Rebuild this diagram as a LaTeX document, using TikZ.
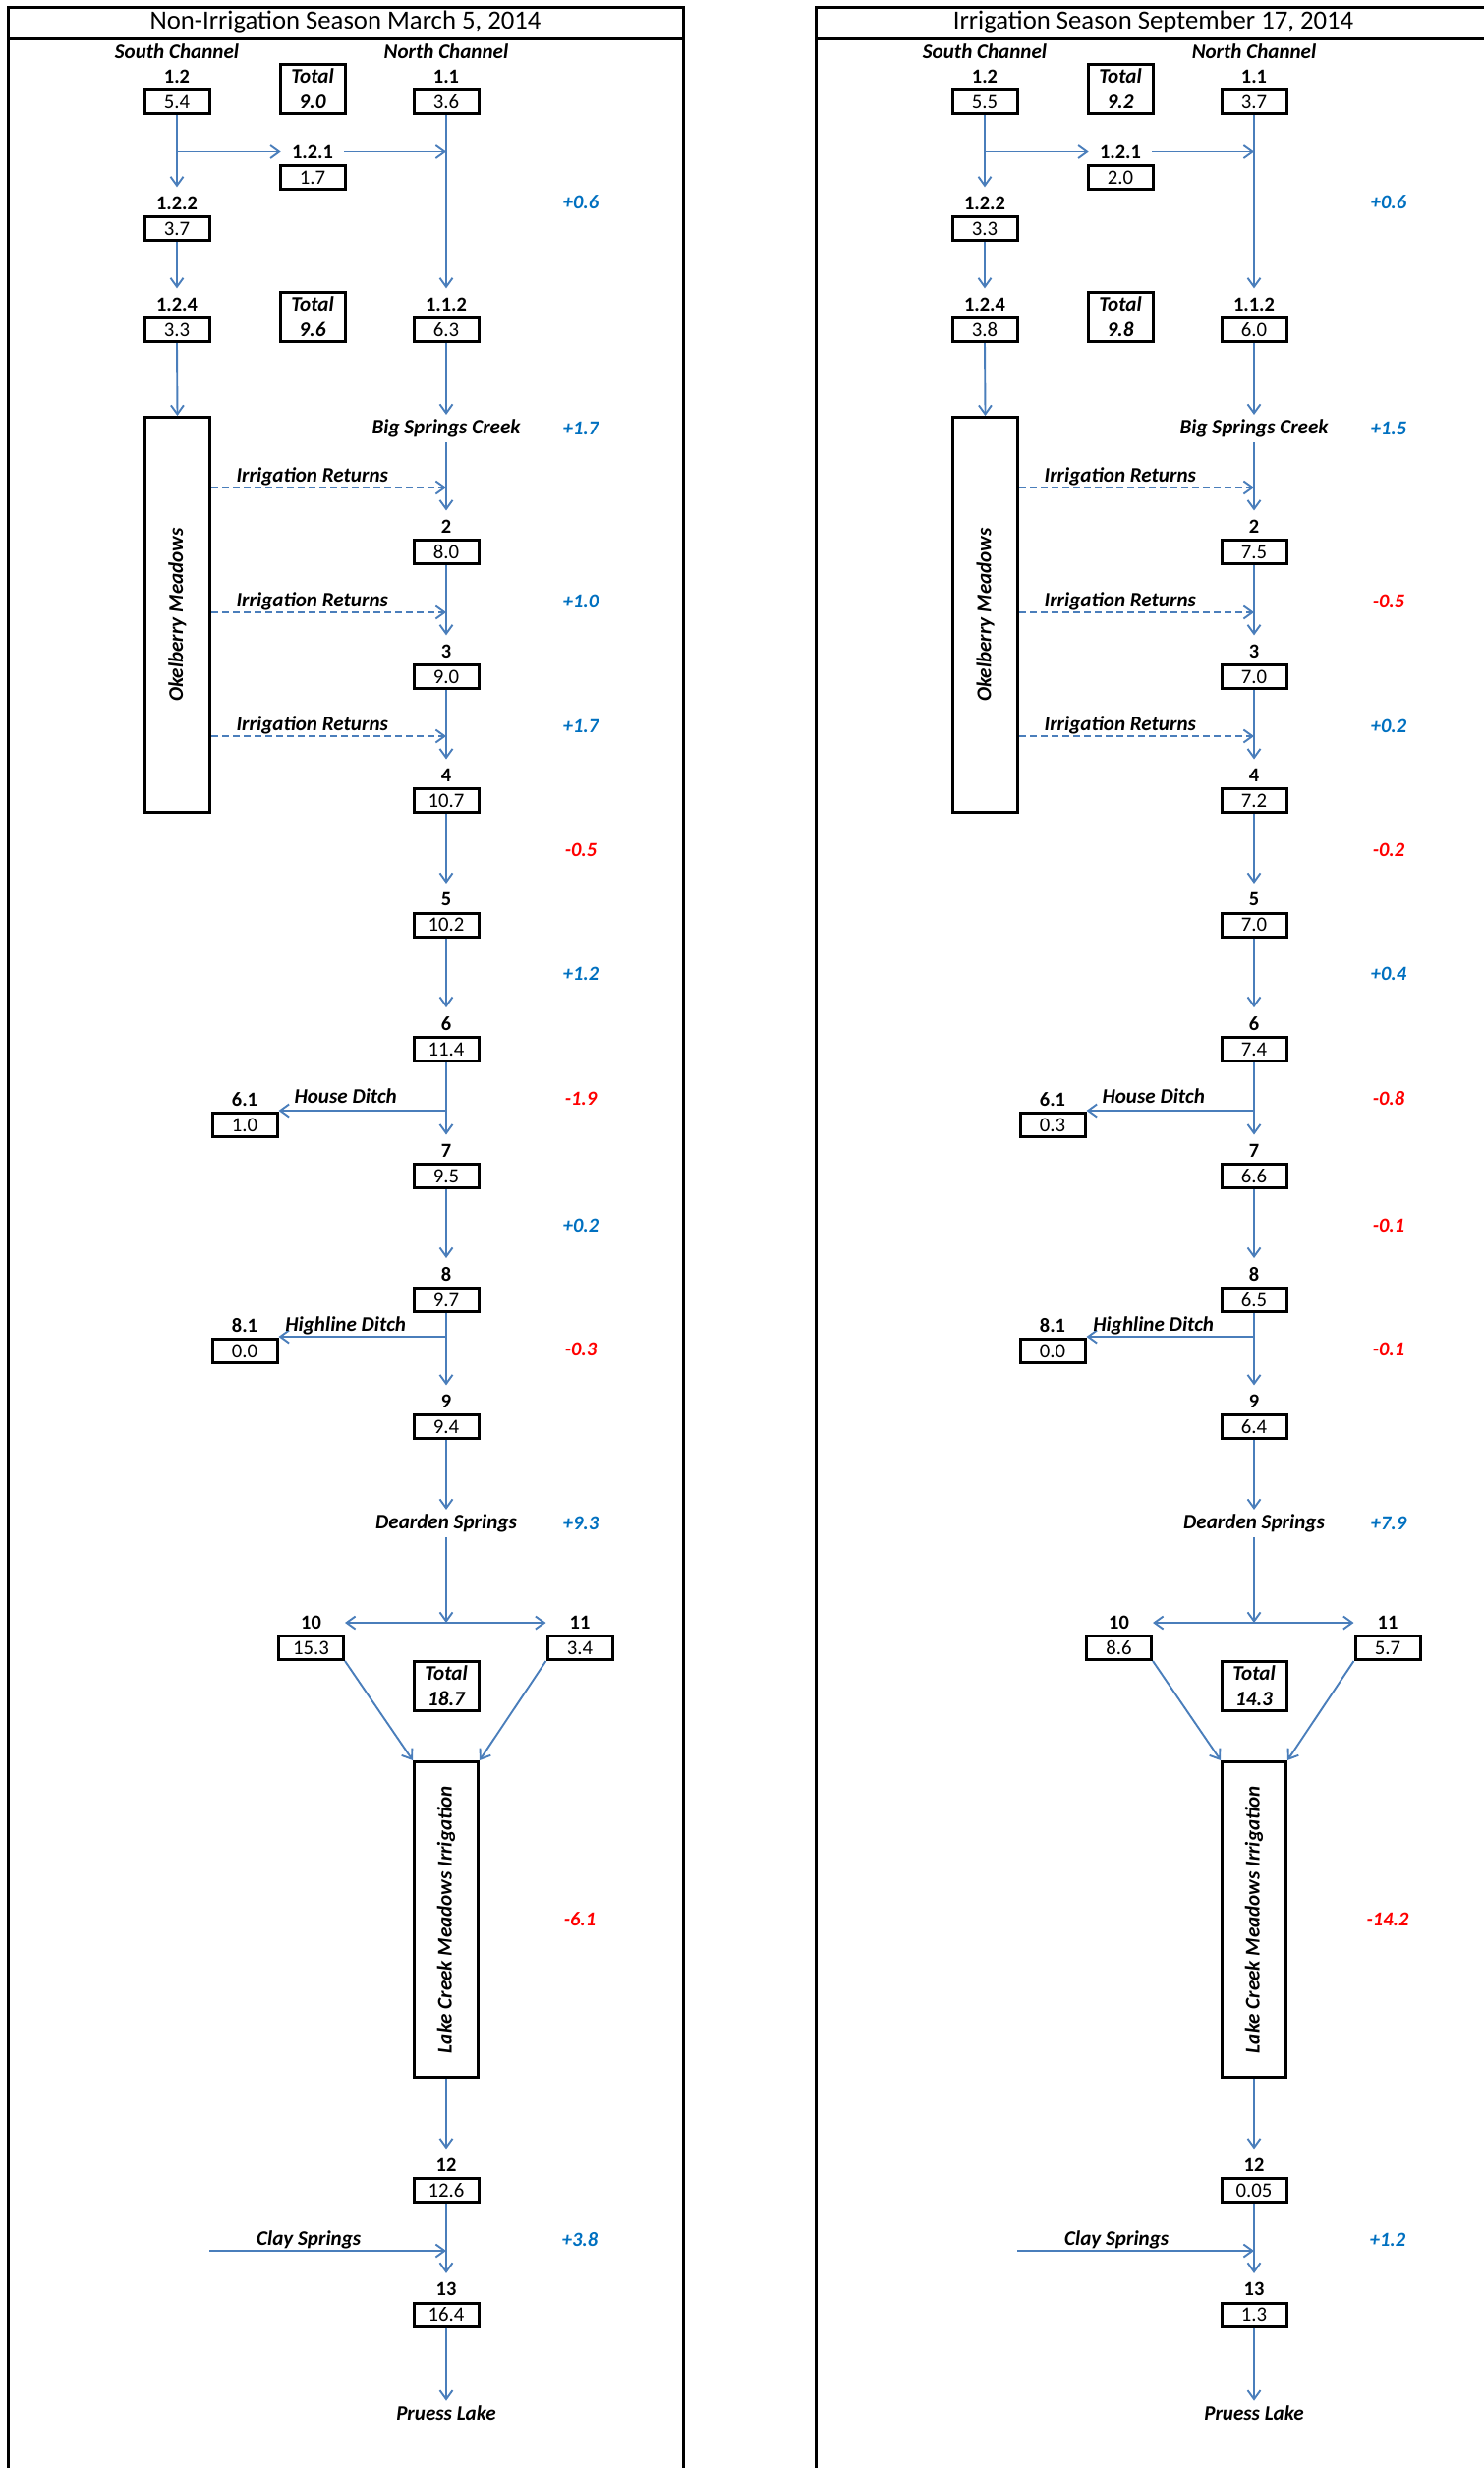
\documentclass[tikz,border=0pt]{standalone}
\usepackage{fontspec}
\setmainfont{Carlito}
\usepackage{graphicx}
\usetikzlibrary{arrows.meta}
\definecolor{flowblue}{RGB}{74,126,187}
\definecolor{gainblue}{RGB}{0,112,192}
\definecolor{lossred}{RGB}{255,0,0}
\tikzset{
  panelframe/.style={line width=0.6mm},
  ttl/.style={font=\fontsize{15.2}{18}\selectfont},
  valbox/.style={draw, line width=0.6mm, minimum width=13.2mm, minimum height=4.8mm, inner sep=0pt, font=\fontsize{11.8}{13}\selectfont},
  totbox/.style={draw, line width=0.6mm, minimum width=13.2mm, minimum height=10mm, inner sep=0pt, align=center, font=\bfseries\itshape\fontsize{12}{14.8}\selectfont},
  tallbox/.style={draw, line width=0.6mm, inner sep=0pt, font=\bfseries\itshape\fontsize{12}{13}\selectfont},
  idlbl/.style={inner xsep=2.2mm, inner ysep=1.8mm, font=\bfseries\fontsize{11.6}{13}\selectfont},
  sitelbl/.style={inner xsep=0.5mm, inner ysep=0.9mm, font=\bfseries\itshape\fontsize{12}{13}\selectfont},
  gain/.style={font=\bfseries\itshape\fontsize{11.6}{13}\selectfont, text=gainblue},
  loss/.style={gain, text=lossred},
  flow/.style={draw=flowblue, line width=0.38mm, -{Straight Barb[length=1.8mm, width=2.6mm]}},
  ret/.style={flow, dash pattern=on 1.4mm off 0.8mm},
}
% station: number above, flow value boxed below
\def\station(#1)(#2,#3)#4#5{\node[idlbl] (#1l) at (#2,#3-26) {#4}; \node[valbox] (#1) at (#2,#3) {#5};}

\begin{document}
\begin{tikzpicture}[x=0.2mm, y=-0.2mm]
	\useasboundingbox (0,0) rectangle (1510,2511);
	\clip (0,0) rectangle (1510,2511);
	%%%%% NON-IRRIGATION SEASON %%%%%
	
	\draw[panelframe] (8,7) rectangle (695,2530);
	\draw[panelframe] (8,39) -- (695,39);
	\node[ttl] (Lttl) at (351.5,23) {Non-Irrigation Season March 5, 2014};
	
	\node[sitelbl] (LSch) at (180,52) {South Channel};
	\node[sitelbl] (LNch) at (454,52) {North Channel};
	
	\station(Ls12)(180,103.5){1.2}{5.4}
	\node[totbox] (Ltot1) at (318,90.5) {Total\\9.0};
	\station(Ln11)(454,103.5){1.1}{3.6}
	\station(Ls121)(318,180.5){1.2.1}{1.7}
	\station(Ls122)(180,232.5){1.2.2}{3.7}
	\station(Ls124)(180,335.5){1.2.4}{3.3}
	\node[totbox] (Ltot2) at (318,322.5) {Total\\9.6};
	\station(Ln112)(454,335.5){1.1.2}{6.3}
	\node[gain] (Lg1) at (591,206) {+0.6};
	
	\node[tallbox, minimum width=13.2mm, minimum height=80.4mm] (Lokb) at (180.5,625.5) {\rotatebox{90}{Okelberry Meadows}};
	\node[sitelbl] (Lbig) at (454,436) {Big Springs Creek};
	\node[gain] (Lg2) at (591,436) {+1.7};
	\coordinate (Lir1) at (454,496);
	\station(Ln2)(454,561.5){2}{8.0}
	\coordinate (Lir2) at (454,623);
	\node[gain] (Lg3) at (591,612) {+1.0};
	\station(Ln3)(454,688.5){3}{9.0}
	\coordinate (Lir3) at (454,749);
	\node[gain] (Lg4) at (591,739) {+1.7};
	\station(Ln4)(454,814.5){4}{10.7}
	\node[loss] (Lg5) at (591,865) {-0.5};
	\station(Ln5)(454,941){5}{10.2}
	\node[gain] (Lg6) at (591,991) {+1.2};
	\station(Ln6)(454,1067.5){6}{11.4}
	\coordinate (Lhd) at (454,1130);
	\station(Ls61)(249,1144.5){6.1}{1.0}
	\node[loss] (Lg7) at (591,1118) {-1.9};
	\station(Ln7)(454,1196.5){7}{9.5}
	\node[gain] (Lg8) at (591,1247) {+0.2};
	\station(Ln8)(454,1322.5){8}{9.7}
	\coordinate (Lhl) at (454,1360);
	\station(Ls81)(249,1374.5){8.1}{0.0}
	\node[loss] (Lg9) at (591,1373) {-0.3};
	\station(Ln9)(454,1451.5){9}{9.4}
	\node[sitelbl] (Ldear) at (454,1550) {Dearden Springs};
	\node[gain] (Lg10) at (591,1550) {+9.3};
	\coordinate (Lsplit) at (454,1651);
	\station(Ls10)(316.5,1676.5){10}{15.3}
	\station(Ls11)(590,1676.5){11}{3.4}
	\node[totbox] (Ltot3) at (454,1715) {Total\\18.7};
	\node[tallbox, minimum width=13mm, minimum height=64.2mm] (Llcm) at (454,1953) {\rotatebox{90}{Lake Creek Meadows Irrigation}};
	\node[loss] (Lg11) at (590,1953) {-6.1};
	\station(Ln12)(454,2228.5){12}{12.6}
	\coordinate (Lclay) at (454,2290);
	\coordinate (Lcs) at (213,2290);
	\node[gain] (Lg12) at (590,2279) {+3.8};
	\station(Ln13)(454,2355){13}{16.4}
	\node[sitelbl] (Lpl) at (454,2455) {Pruess Lake};
	
	\draw[flow] (Ls12.south) -- (Ls122l.north);
	\draw[flow] (Ls12.south |- Ls121l) -- (Ls121l.west);
	\draw[flow] (Ls121l.east) -- (Ln11.south |- Ls121l);
	\draw[flow] (Ls122.south) -- (Ls124l.north);
	\draw[flow] (Ls124.south) -- (Lokb.north);
	\draw[flow] (Ln11.south) -- (Ln112l.north);
	\draw[flow] (Ln112.south) -- (Lbig.north);
	\draw[flow] (Lbig.south) -- (Ln2l.north);
	\draw[ret] (Lokb.east |- Lir1) -- (Lir1) node[sitelbl, pos=0.43, above, inner sep=0.3mm] (Lrt1) {Irrigation Returns};
	\draw[flow] (Ln2.south) -- (Ln3l.north);
	\draw[ret] (Lokb.east |- Lir2) -- (Lir2) node[sitelbl, pos=0.43, above, inner sep=0.3mm] (Lrt2) {Irrigation Returns};
	\draw[flow] (Ln3.south) -- (Ln4l.north);
	\draw[ret] (Lokb.east |- Lir3) -- (Lir3) node[sitelbl, pos=0.43, above, inner sep=0.3mm] (Lrt3) {Irrigation Returns};
	\draw[flow] (Ln4.south) -- (Ln5l.north);
	\draw[flow] (Ln5.south) -- (Ln6l.north);
	\draw[flow] (Ln6.south) -- (Ln7l.north);
	\draw[flow] (Lhd) -- (Ls61.east |- Lhd) node[sitelbl, pos=0.6, above=1mm, inner sep=0.3mm] (Lhdt) {House Ditch};
	\draw[flow] (Ln7.south) -- (Ln8l.north);
	\draw[flow] (Ln8.south) -- (Ln9l.north);
	\draw[flow] (Lhl) -- (Ls81.east |- Lhl) node[sitelbl, pos=0.6, above, inner sep=0.3mm] (Lhlt) {Highline Ditch};
	\draw[flow] (Ln9.south) -- (Ldear.north);
	\draw[flow] (Ldear.south) -- (Lsplit);
	\draw[flow] (Lsplit) -- (Ls10.east |- Lsplit);
	\draw[flow] (Lsplit) -- (Ls11.west |- Lsplit);
	\draw[flow] (Ls10.south east) -- (Llcm.north west);
	\draw[flow] (Ls11.south west) -- (Llcm.north east);
	\draw[flow] (Llcm.south) -- (Ln12l.north);
	\draw[flow] (Ln12.south) -- (Ln13l.north);
	\draw[flow] (Lcs) -- (Lclay) node[sitelbl, pos=0.42, above, inner sep=0.3mm] (Lcst) {Clay Springs};
	\draw[flow] (Ln13.south) -- (Lpl.north);
	
	%%%%% IRRIGATION SEASON %%%%%
	\begin{scope}[xshift=164.4mm]
	\draw[panelframe] (8,7) rectangle (695,2530);
	\draw[panelframe] (8,39) -- (695,39);
	\node[ttl] (Rttl) at (351.5,23) {Irrigation Season September 17, 2014};
	
	\node[sitelbl] (RSch) at (180,52) {South Channel};
	\node[sitelbl] (RNch) at (454,52) {North Channel};
	
	\station(Rs12)(180,103.5){1.2}{5.5}
	\node[totbox] (Rtot1) at (318,90.5) {Total\\9.2};
	\station(Rn11)(454,103.5){1.1}{3.7}
	\station(Rs121)(318,180.5){1.2.1}{2.0}
	\station(Rs122)(180,232.5){1.2.2}{3.3}
	\station(Rs124)(180,335.5){1.2.4}{3.8}
	\node[totbox] (Rtot2) at (318,322.5) {Total\\9.8};
	\station(Rn112)(454,335.5){1.1.2}{6.0}
	\node[gain] (Rg1) at (591,206) {+0.6};
	
	\node[tallbox, minimum width=13.2mm, minimum height=80.4mm] (Rokb) at (180.5,625.5) {\rotatebox{90}{Okelberry Meadows}};
	\node[sitelbl] (Rbig) at (454,436) {Big Springs Creek};
	\node[gain] (Rg2) at (591,436) {+1.5};
	\coordinate (Rir1) at (454,496);
	\station(Rn2)(454,561.5){2}{7.5}
	\coordinate (Rir2) at (454,623);
	\node[loss] (Rg3) at (591,612) {-0.5};
	\station(Rn3)(454,688.5){3}{7.0}
	\coordinate (Rir3) at (454,749);
	\node[gain] (Rg4) at (591,739) {+0.2};
	\station(Rn4)(454,814.5){4}{7.2}
	\node[loss] (Rg5) at (591,865) {-0.2};
	\station(Rn5)(454,941){5}{7.0}
	\node[gain] (Rg6) at (591,991) {+0.4};
	\station(Rn6)(454,1067.5){6}{7.4}
	\coordinate (Rhd) at (454,1130);
	\station(Rs61)(249,1144.5){6.1}{0.3}
	\node[loss] (Rg7) at (591,1118) {-0.8};
	\station(Rn7)(454,1196.5){7}{6.6}
	\node[loss] (Rg8) at (591,1247) {-0.1};
	\station(Rn8)(454,1322.5){8}{6.5}
	\coordinate (Rhl) at (454,1360);
	\station(Rs81)(249,1374.5){8.1}{0.0}
	\node[loss] (Rg9) at (591,1373) {-0.1};
	\station(Rn9)(454,1451.5){9}{6.4}
	\node[sitelbl] (Rdear) at (454,1550) {Dearden Springs};
	\node[gain] (Rg10) at (591,1550) {+7.9};
	\coordinate (Rsplit) at (454,1651);
	\station(Rs10)(316.5,1676.5){10}{8.6}
	\station(Rs11)(590,1676.5){11}{5.7}
	\node[totbox] (Rtot3) at (454,1715) {Total\\14.3};
	\node[tallbox, minimum width=13mm, minimum height=64.2mm] (Rlcm) at (454,1953) {\rotatebox{90}{Lake Creek Meadows Irrigation}};
	\node[loss] (Rg11) at (590,1953) {-14.2};
	\station(Rn12)(454,2228.5){12}{0.05}
	\coordinate (Rclay) at (454,2290);
	\coordinate (Rcs) at (213,2290);
	\node[gain] (Rg12) at (590,2279) {+1.2};
	\station(Rn13)(454,2355){13}{1.3}
	\node[sitelbl] (Rpl) at (454,2455) {Pruess Lake};
	
	\draw[flow] (Rs12.south) -- (Rs122l.north);
	\draw[flow] (Rs12.south |- Rs121l) -- (Rs121l.west);
	\draw[flow] (Rs121l.east) -- (Rn11.south |- Rs121l);
	\draw[flow] (Rs122.south) -- (Rs124l.north);
	\draw[flow] (Rs124.south) -- (Rokb.north);
	\draw[flow] (Rn11.south) -- (Rn112l.north);
	\draw[flow] (Rn112.south) -- (Rbig.north);
	\draw[flow] (Rbig.south) -- (Rn2l.north);
	\draw[ret] (Rokb.east |- Rir1) -- (Rir1) node[sitelbl, pos=0.43, above, inner sep=0.3mm] (Rrt1) {Irrigation Returns};
	\draw[flow] (Rn2.south) -- (Rn3l.north);
	\draw[ret] (Rokb.east |- Rir2) -- (Rir2) node[sitelbl, pos=0.43, above, inner sep=0.3mm] (Rrt2) {Irrigation Returns};
	\draw[flow] (Rn3.south) -- (Rn4l.north);
	\draw[ret] (Rokb.east |- Rir3) -- (Rir3) node[sitelbl, pos=0.43, above, inner sep=0.3mm] (Rrt3) {Irrigation Returns};
	\draw[flow] (Rn4.south) -- (Rn5l.north);
	\draw[flow] (Rn5.south) -- (Rn6l.north);
	\draw[flow] (Rn6.south) -- (Rn7l.north);
	\draw[flow] (Rhd) -- (Rs61.east |- Rhd) node[sitelbl, pos=0.6, above=1mm, inner sep=0.3mm] (Rhdt) {House Ditch};
	\draw[flow] (Rn7.south) -- (Rn8l.north);
	\draw[flow] (Rn8.south) -- (Rn9l.north);
	\draw[flow] (Rhl) -- (Rs81.east |- Rhl) node[sitelbl, pos=0.6, above, inner sep=0.3mm] (Rhlt) {Highline Ditch};
	\draw[flow] (Rn9.south) -- (Rdear.north);
	\draw[flow] (Rdear.south) -- (Rsplit);
	\draw[flow] (Rsplit) -- (Rs10.east |- Rsplit);
	\draw[flow] (Rsplit) -- (Rs11.west |- Rsplit);
	\draw[flow] (Rs10.south east) -- (Rlcm.north west);
	\draw[flow] (Rs11.south west) -- (Rlcm.north east);
	\draw[flow] (Rlcm.south) -- (Rn12l.north);
	\draw[flow] (Rn12.south) -- (Rn13l.north);
	\draw[flow] (Rcs) -- (Rclay) node[sitelbl, pos=0.42, above, inner sep=0.3mm] (Rcst) {Clay Springs};
	\draw[flow] (Rn13.south) -- (Rpl.north);
	\end{scope}
	
	%%%%% END %%%%%
\end{tikzpicture}
\end{document}
